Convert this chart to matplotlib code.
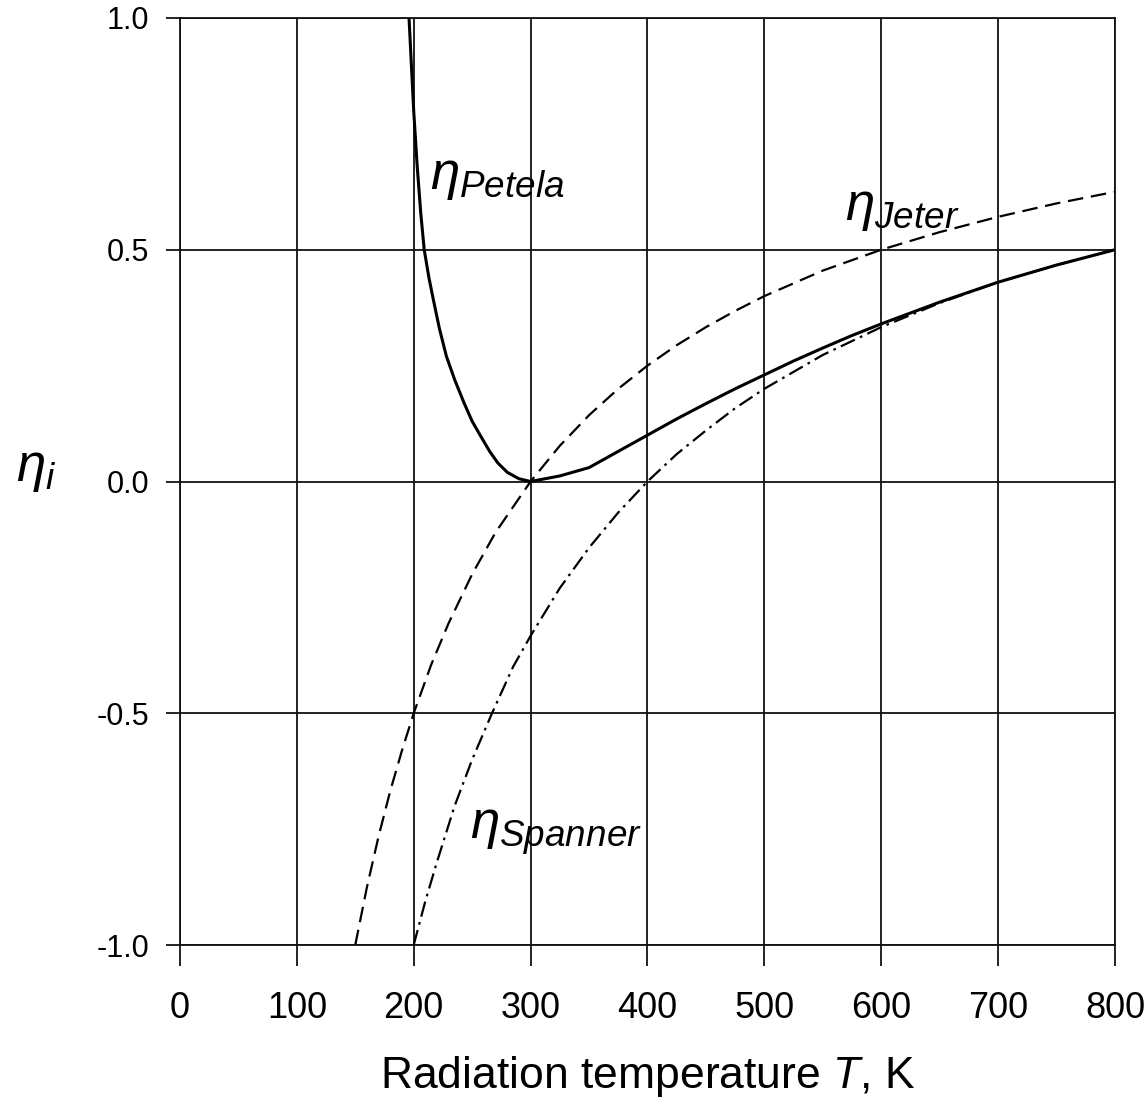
import numpy as np
import matplotlib.pyplot as plt

plt.rcParams['mathtext.fontset'] = 'custom'
plt.rcParams['mathtext.rm'] = 'Liberation Sans'
plt.rcParams['mathtext.it'] = 'Liberation Sans:italic'

# values
T_petela = [196, 198, 200, 203, 206, 209, 213, 217, 222, 228, 235, 243, 250, 258, 265,
            272, 280, 290, 300, 325, 350, 375, 400, 425, 450, 475, 500, 525, 550, 575,
            600, 650, 700, 750, 800]
eta_petela = [1.0, 0.90, 0.80, 0.68, 0.58, 0.50, 0.44, 0.39, 0.33, 0.27, 0.22, 0.17, 0.13,
              0.095, 0.065, 0.04, 0.02, 0.006, 0.0, 0.012, 0.03, 0.065, 0.10, 0.135, 0.168,
              0.20, 0.23, 0.26, 0.288, 0.315, 0.34, 0.387, 0.43, 0.467, 0.50]

T_jeter = [150, 160, 170, 180, 190, 200, 215, 230, 250, 270, 300, 325, 350, 375, 400,
           425, 450, 475, 500, 550, 600, 650, 700, 750, 800]
eta_jeter = [-1.0, -0.875, -0.765, -0.667, -0.58, -0.5, -0.395, -0.305, -0.2, -0.11, 0.0,
             0.077, 0.143, 0.2, 0.25, 0.294, 0.333, 0.368, 0.40, 0.455, 0.50, 0.538, 0.571,
             0.60, 0.625]

T_spanner = [200, 210, 220, 235, 250, 267, 285, 300, 325, 350, 375, 400, 425, 450, 475,
             500, 550, 600, 650, 700, 750, 800]
eta_spanner = [-1.0, -0.905, -0.82, -0.70, -0.6, -0.5, -0.40, -0.333, -0.23, -0.143, -0.067,
               0.0, 0.059, 0.11, 0.158, 0.20, 0.273, 0.333, 0.385, 0.43, 0.467, 0.50]

xticks = [0, 100, 200, 300, 400, 500, 600, 700, 800]
yticks = [-1.0, -0.5, 0.0, 0.5, 1.0]

fig = plt.figure(figsize=(11.44, 11.11), dpi=100)
ax = fig.add_axes([0.1573, 0.1494, 0.8173, 0.8344])

ax.plot(T_petela, eta_petela, color='black', lw=2.2)
ax.plot(T_jeter, eta_jeter, color='black', lw=1.6, dashes=(7, 3.5))
ax.plot(T_spanner, eta_spanner, color='black', lw=1.6, dashes=(7, 2.5, 1.2, 2.5))

ax.set_xlim(0, 800)
ax.set_ylim(-1.0, 1.0)
ax.set_xticks(xticks)
ax.set_yticks(yticks)
ax.set_xticklabels([str(t) for t in xticks], fontsize=26, family='Liberation Sans')
ax.set_yticklabels([f'{v:.1f}' for v in yticks], fontsize=22, family='Liberation Sans')
ax.tick_params(axis='x', direction='out', length=15, width=1.2, pad=18)
ax.tick_params(axis='y', direction='out', length=10, width=1.2, pad=12)
ax.grid(True, color='#111111', lw=1.3)
for s in ax.spines.values():
    s.set_linewidth(1.3)
    s.set_color('#111111')

ax.set_xlabel('Radiation temperature $\\mathit{T}$, K', fontsize=32,
              family='Liberation Sans', labelpad=20)
ax.text(-0.175, 0.515, r'$\eta_i$', transform=ax.transAxes, fontsize=38, va='center')

ax.text(214, 0.63, r'$\eta_{Petela}$', fontsize=38, ha='left', va='baseline')
ax.text(569, 0.565, r'$\eta_{Jeter}$', fontsize=38, ha='left', va='baseline')
ax.text(248, -0.77, r'$\eta_{Spanner}$', fontsize=38, ha='left', va='baseline')

fig.savefig('out.png', dpi=100)
